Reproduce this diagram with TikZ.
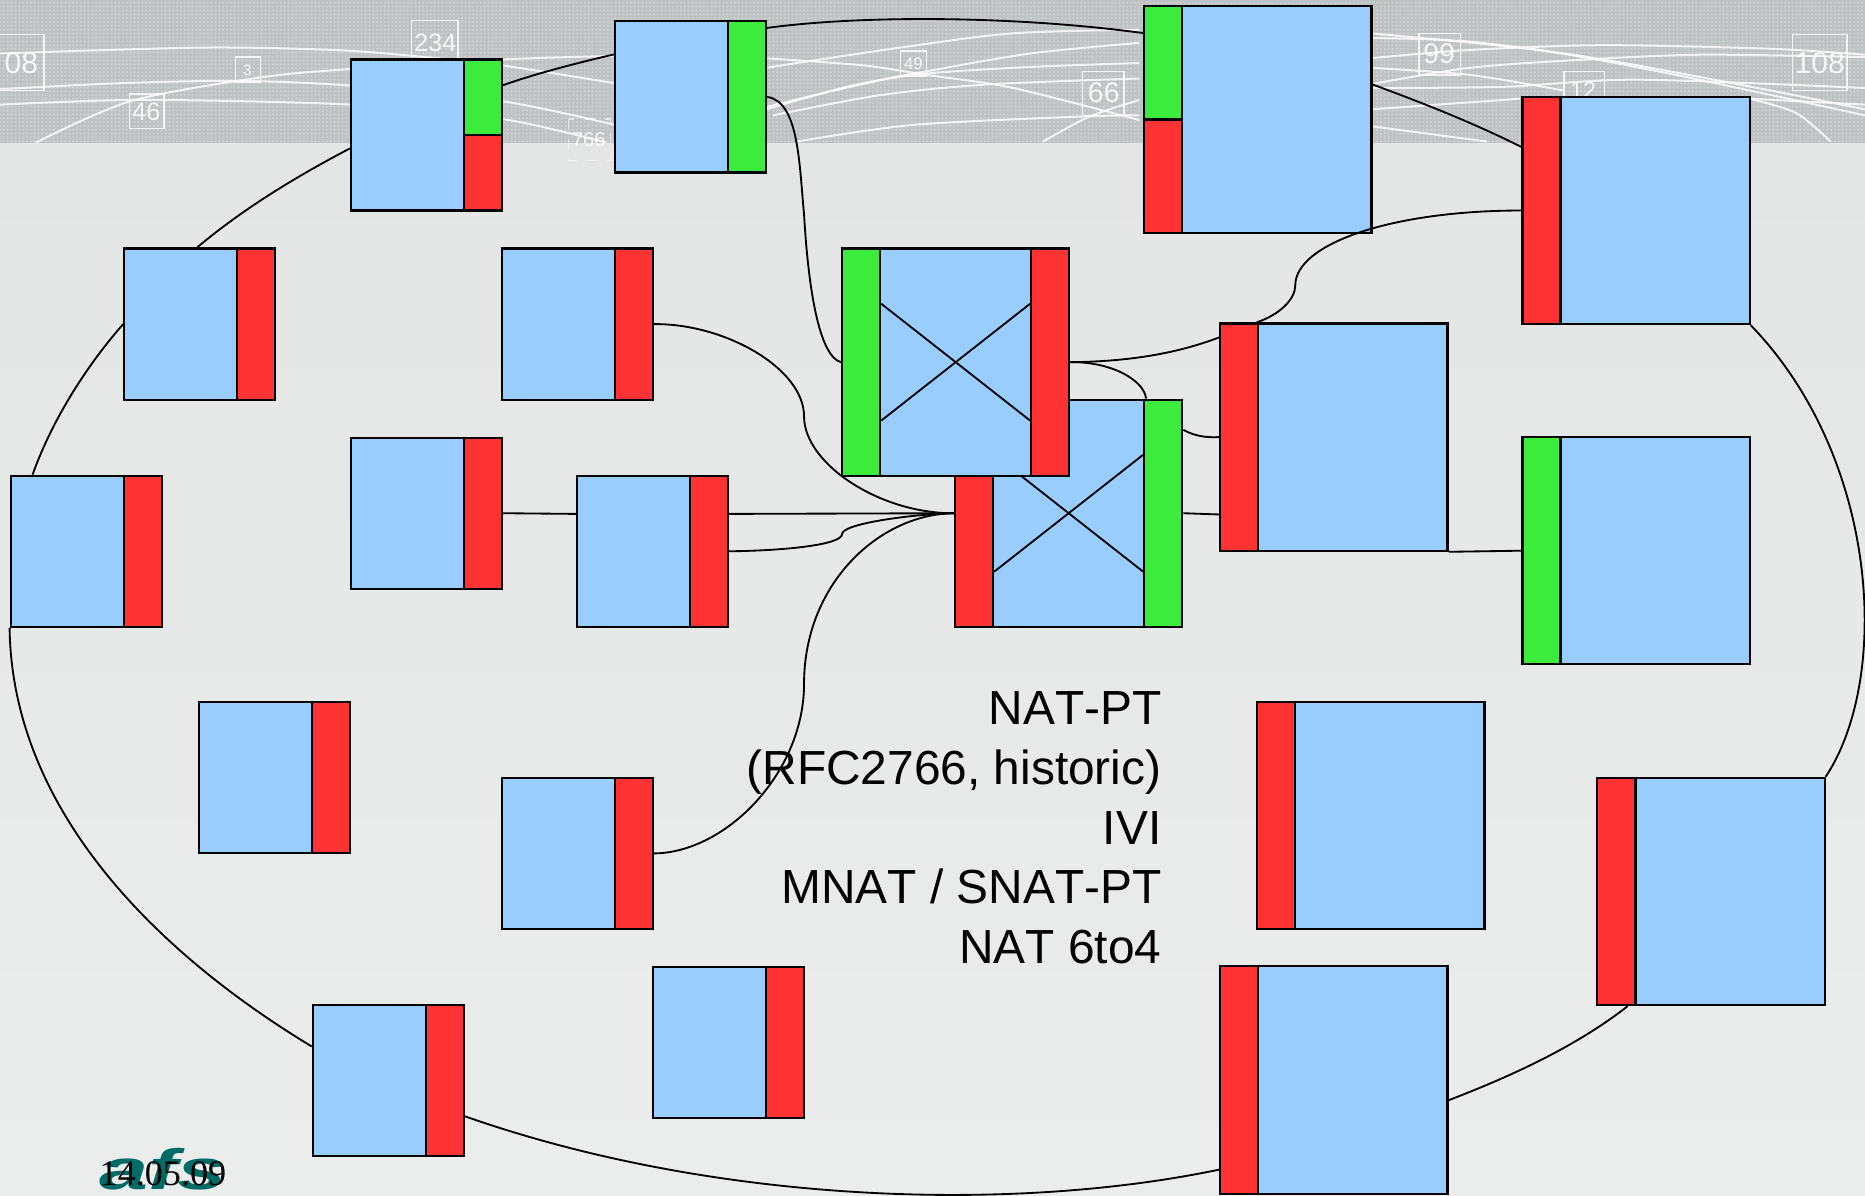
\documentclass[tikz,border=0pt]{standalone}
\usepackage{fontspec}
\setmainfont[Kerning=Off]{Liberation Sans}
\newfontfamily\datefont{Liberation Serif}
\usetikzlibrary{calc,patterns.meta}
\definecolor{hostblue}{HTML}{99CCFF}
\definecolor{portred}{HTML}{FF3333}
\definecolor{portgreen}{HTML}{3CEC3C}
\definecolor{bandgray}{HTML}{BFC2C3}
\definecolor{banddot}{HTML}{CFD2D3}
\definecolor{logoteal}{HTML}{006B66}
\definecolor{pagetop}{HTML}{E4E5E5}
\definecolor{pagebottom}{HTML}{EBEDED}
\tikzset{
    hostsmall/.style={rectangle,draw,fill=hostblue,line width=.65pt,minimum size=1.5875cm,inner sep=0pt},
    hostlarge/.style={rectangle,draw,fill=hostblue,line width=.65pt,minimum size=2.3875cm,inner sep=0pt},
    portbox/.style={rectangle,draw,line width=.65pt,minimum width=.4cm,inner sep=0pt},
    portshort/.style={portbox,minimum height=1.5875cm},
    porttall/.style={portbox,minimum height=2.3875cm},
    portsplitsmall/.style={portbox,minimum height=.79375cm},
    portsplitlarge/.style={portbox,minimum height=1.19375cm},
    link/.style={draw,line width=.55pt},
    bandline/.style={white,opacity=.8,line width=.6pt},
    bandbox/.style={rectangle,draw=white,draw opacity=.8,line width=.4pt,inner sep=0pt},
    bandnum/.style={text=white,text opacity=.85,inner sep=0pt},
}
\begin{document}
\begin{tikzpicture}[x=0.0125cm,y=-0.0125cm]
    \useasboundingbox (0,0) rectangle (1568,1005);
    \shade[top color=pagetop,bottom color=pagebottom] (0,120) rectangle (1568,1005);
    \fill[bandgray] (0,0) rectangle (1568,120);
    \fill[pattern={Dots[distance=1.15pt,radius=.36pt]},pattern color=banddot] (0,0) rectangle (1568,120);
    \begin{scope}
        \clip (0,0) rectangle (1568,120);
        \draw[bandline] plot[smooth] coordinates {(0,45) (170,40) (280,42) (347,47) (422,55) (517,70)};
        \draw[bandline] plot[smooth] coordinates {(0,75) (100,70) (200,68) (295,72) (422,85) (517,105)};
        \draw[bandline] plot[smooth] coordinates {(0,88) (120,84) (295,88) (422,100) (510,120)};
        \draw[bandline] plot[smooth] coordinates {(30,120) (110,85) (220,65) (295,58) (422,50) (517,47)};
        \draw[bandline] plot[smooth] coordinates {(644,57) (757,40) (852,28) (958,25)};
        \draw[bandline] plot[smooth] coordinates {(644,49) (726,55) (779,63) (852,74) (958,101)};
        \draw[bandline] plot[smooth] coordinates {(644,92) (712,73) (779,60) (866,45) (958,36)};
        \draw[bandline] plot[smooth] coordinates {(644,90) (754,65) (852,57) (958,53)};
        \draw[bandline] plot[smooth] coordinates {(650,97) (740,80) (830,71) (958,66)};
        \draw[bandline] plot[smooth] coordinates {(670,119) (768,105) (908,98) (958,97)};
        \draw[bandline] plot[smooth] coordinates {(877,119) (916,98) (958,84)};
        \draw[bandline] plot[smooth] coordinates {(1152,28) (1292,42) (1404,62) (1568,97)};
        \draw[bandline] plot[smooth] coordinates {(1152,32) (1236,35) (1348,50) (1488,76) (1568,92)};
        \draw[bandline] plot[smooth] coordinates {(1152,49) (1236,42) (1348,38) (1488,41) (1568,46)};
        \draw[bandline] plot[smooth] coordinates {(1152,71) (1236,57) (1334,50) (1432,46) (1568,48)};
        \draw[bandline] plot[smooth] coordinates {(1152,57) (1236,63) (1314,76)};
        \draw[bandline] plot[smooth] coordinates {(1152,74) (1264,73) (1376,67) (1568,74)};
        \draw[bandline] plot[smooth] coordinates {(1152,92) (1278,83)};
        \draw[bandline] plot[smooth] coordinates {(1152,106) (1250,119)};
        \draw[bandline] plot[smooth] coordinates {(1471,83) (1568,88)};
        \draw[bandline] plot[smooth] coordinates {(1471,83) (1510,95) (1539,119)};
    \end{scope}
    \draw[bandbox] (-5,29) rectangle (37,76);
    \draw[bandbox] (109,79) rectangle (138,108);
    \draw[bandbox] (198,48) rectangle (219,69);
    \draw[bandbox] (346,17) rectangle (385,52);
    \draw[bandbox,dashed,draw opacity=.6] (478,100) rectangle (513,135);
    \draw[bandbox] (757,43) rectangle (779,64);
    \draw[bandbox] (910,60) rectangle (945,97);
    \draw[bandbox] (1193,28) rectangle (1228,63);
    \draw[bandbox] (1315,60) rectangle (1349,95);
    \draw[bandbox] (1507,29) rectangle (1553,76);
    \node[bandnum,font=\fontsize{9}{9}\selectfont] at (18,53) (numa) {08};
    \node[bandnum,font=\fontsize{7.5}{8}\selectfont] at (123,94) (numb) {46};
    \node[bandnum,font=\fontsize{4.5}{5}\selectfont] at (208,59) (numc) {3};
    \node[bandnum,font=\fontsize{7.5}{8}\selectfont] at (366,36) (numd) {234};
    \node[bandnum,font=\fontsize{6}{6}\selectfont] at (495,117) (nume) {766};
    \node[bandnum,font=\fontsize{5}{5}\selectfont] at (768,54) (numf) {49};
    \node[bandnum,font=\fontsize{8.5}{9}\selectfont] at (928,78) (numg) {66};
    \node[bandnum,font=\fontsize{8.5}{9}\selectfont] at (1210,45) (numh) {99};
    \node[bandnum,font=\fontsize{7}{7}\selectfont] at (1331,76) (numi) {12};
    \node[bandnum,font=\fontsize{9}{9}\selectfont] at (1530,53) (numj) {108};

    \node[hostsmall] at (358.5,113.5) (s1) {};
    \node[portsplitsmall,fill=portgreen,anchor=north east] at (s1.north east) (s1up) {};
    \node[portsplitsmall,fill=portred,anchor=south east] at (s1.south east) (s1down) {};
    \node[hostsmall] at (580.5,81.5) (s2) {};
    \node[portshort,fill=portgreen,anchor=east] at (s2.east) (s2port) {};
    \node[hostsmall] at (168,272.5) (s3) {};
    \node[portshort,fill=portred,anchor=east] at (s3.east) (s3port) {};
    \node[hostsmall] at (485.5,272.5) (s4) {};
    \node[portshort,fill=portred,anchor=east] at (s4.east) (s4port) {};
    \node[hostsmall] at (358.5,431.5) (s5) {};
    \node[portshort,fill=portred,anchor=east] at (s5.east) (s5port) {};
    \node[hostsmall] at (548.5,463.5) (s6) {};
    \node[portshort,fill=portred,anchor=east] at (s6.east) (s6port) {};
    \node[hostsmall] at (72.5,463.5) (s7) {};
    \node[portshort,fill=portred,anchor=east] at (s7.east) (s7port) {};
    \node[hostsmall] at (231,653.5) (s8) {};
    \node[portshort,fill=portred,anchor=east] at (s8.east) (s8port) {};
    \node[hostsmall] at (485.5,717.5) (s9) {};
    \node[portshort,fill=portred,anchor=east] at (s9.east) (s9port) {};
    \node[hostsmall] at (612.5,876.5) (s10) {};
    \node[portshort,fill=portred,anchor=east] at (s10.east) (s10port) {};
    \node[hostsmall] at (326.5,908.5) (s11) {};
    \node[portshort,fill=portred,anchor=east] at (s11.east) (s11port) {};

    \node[hostlarge] at (1057.5,100.5) (l1) {};
    \node[portsplitlarge,fill=portgreen,anchor=north west] at (l1.north west) (l1up) {};
    \node[portsplitlarge,fill=portred,anchor=south west] at (l1.south west) (l1down) {};
    \node[hostlarge] at (1375.5,177) (l2) {};
    \node[porttall,fill=portred,anchor=west] at (l2.west) (l2port) {};
    \node[hostlarge] at (898.5,431.5) (l4) {};
    \node[porttall,fill=portred,anchor=west] at (l4.west) (l4left) {};
    \node[porttall,fill=portgreen,anchor=east] at (l4.east) (l4right) {};
    \draw[link] (l4left.71) -- (l4right.-109);
    \draw[link] (l4left.-71) -- (l4right.109);
    \node[hostlarge] at (803.5,304.5) (l3) {};
    \node[porttall,fill=portgreen,anchor=west] at (l3.west) (l3left) {};
    \node[porttall,fill=portred,anchor=east] at (l3.east) (l3right) {};
    \draw[link] (l3left.71) -- (l3right.-109);
    \draw[link] (l3left.-71) -- (l3right.109);
    \node[hostlarge] at (1121.5,367.5) (l5) {};
    \node[porttall,fill=portred,anchor=west] at (l5.west) (l5port) {};
    \node[hostlarge] at (1375.5,463) (l6) {};
    \node[porttall,fill=portgreen,anchor=west] at (l6.west) (l6port) {};
    \node[hostlarge] at (1152.5,685.5) (l7) {};
    \node[porttall,fill=portred,anchor=west] at (l7.west) (l7port) {};
    \node[hostlarge] at (1438.5,749.5) (l8) {};
    \node[porttall,fill=portred,anchor=west] at (l8.west) (l8port) {};
    \node[hostlarge] at (1121.5,908) (l9) {};
    \node[porttall,fill=portred,anchor=west] at (l9.west) (l9port) {};

    \draw[link] (s3.92) .. controls (205,175) and (250,148) .. (s1.190);
    \draw[link] (s7.125) .. controls (45,350) and (75,305) .. (s3.west);
    \draw[link] (s7.south west) .. controls (10,680) and (130,800) .. (s11.156);
    \draw[link] (s11.-25) .. controls (600,1012) and (850,1020) .. (l9.218);
    \draw[link] (l9.-10) .. controls (1270,905) and (1325,880) .. (l8.234);
    \draw[link] (l8.north east) .. controls (1590,570) and (1580,385) .. (l2.south east);
    \draw[link] (l1.17) .. controls (1200,88) and (1240,104) .. (l2.151);
    \draw[link] (s1.33) .. controls (450,62) and (485,53) .. (s2.151);
    \draw[link] (s2.42) .. controls (730,12) and (860,14) .. (l1.143);
    \draw[link] (s2.east) .. controls (672,85) and (672,140) .. (676,180) .. controls (680,250) and (690,300) .. (l3.west);
    \draw[link] (s4.east) .. controls (610,272) and (676,310) .. (676,350) .. controls (676,390) and (740,432) .. (l4.west);
    \draw[link] (s5.east) -- (s6.154);
    \draw[link] (s6.26) -- (l4.west);
    \draw[link] (s6.east) .. controls (660,463) and (708,458) .. (708,449) .. controls (708,440) and (770,432) .. (l4.west);
    \draw[link] (s9.east) .. controls (610,717) and (676,650) .. (676,575) .. controls (676,490) and (740,432) .. (l4.west);
    \draw[link] (l3.east) .. controls (950,304) and (990,297) .. (l5.139);
    \draw[link] (l3.east) .. controls (935,304) and (962,320) .. (l4.56);
    \draw[link] (l4.36) .. controls (1005,367) and (1015,368) .. (l5.west);
    \draw[link] (l4.east) -- (l5.214);
    \draw[link] (l5.124) .. controls (1075,265) and (1089,252) .. (1089,240) .. controls (1089,205) and (1170,177) .. (l2.west);
    \draw[link] (l5.south east) -- (l6.west);

    \node[anchor=east,align=right,inner sep=0pt,font=\fontsize{14.3}{17.8}\selectfont] at (977,696) (natlist) {NAT-PT\\(RFC2766, historic)\\IVI\\MNAT / SNAT-PT\\NAT 6to4};
    \node[text=logoteal,inner sep=0pt,anchor=base,xscale=1.55,transform shape,font=\fontsize{17}{17}\selectfont\bfseries\itshape] at (137,1000) (logo) {afs};
    \node[inner sep=0pt,font=\fontsize{10.8}{11}\selectfont\datefont] at (137,987) (date) {14.05.09};
\end{tikzpicture}
\end{document}
